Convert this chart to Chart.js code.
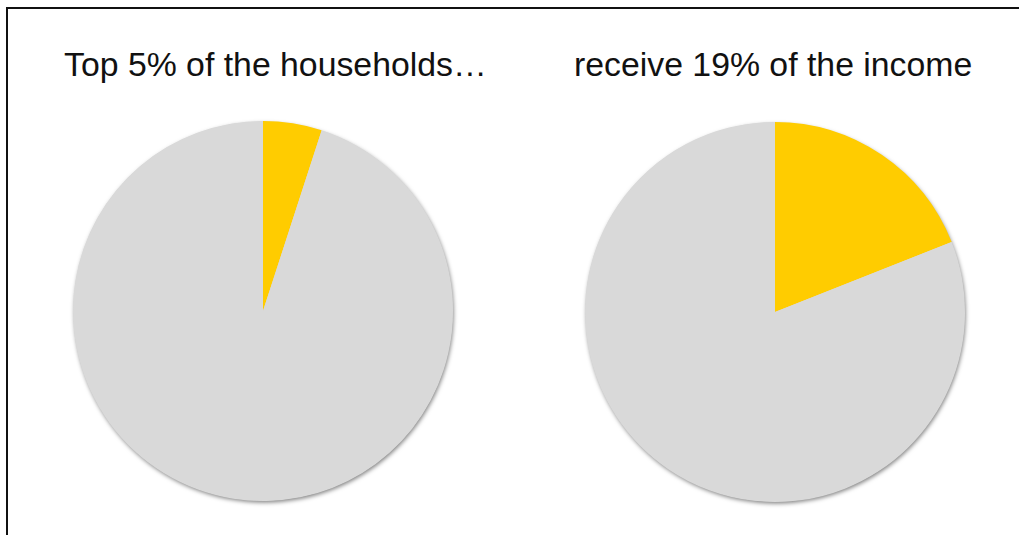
<!DOCTYPE html>
<html>
<head>
<meta charset="utf-8">
<script src="https://cdn.jsdelivr.net/npm/chart.js@4.4.0/dist/chart.umd.min.js"></script>
<style>
  html, body { margin: 0; padding: 0; background: #fff; overflow: hidden; }
  body { width: 1019px; height: 535px; position: relative; }
  .rule { position: absolute; background: #111; }
  .title {
    position: absolute; font-family: "Liberation Sans", Arial, sans-serif;
    font-size: 33.8px; line-height: 34px; color: #111; white-space: nowrap;
  }
  .pie { position: absolute; width: 400px; height: 400px; }
</style>
</head>
<body>
<div class="rule" style="left:6px; top:7px; width:1013px; height:2px;"></div>
<div class="rule" style="left:6px; top:7px; width:2px; height:528px;"></div>
<div class="title" id="t1" style="left:64px; top:47px;"></div>
<div class="title" id="t2" style="left:574px; top:47px;"></div>
<div class="pie" style="left:63px; top:111px;"><canvas id="pie1"></canvas></div>
<div class="pie" style="left:575px; top:112px;"><canvas id="pie2"></canvas></div>
<script>
const titles = ["Top 5% of the households…", "receive 19% of the income"]
const labels = ["Top 5%", "Rest"]
const householdShare = [5, 95]
const incomeShare = [19, 81]
const sliceColors = ["#ffcc00", "#d9d9d9"]

document.getElementById("t1").textContent = titles[0]
document.getElementById("t2").textContent = titles[1]

// soft drop shadow under the whole pie (drawn once, before the slices)
const shadowPlugin = {
  id: "pieShadow",
  beforeDatasetsDraw(chart) {
    const arc = chart.getDatasetMeta(0).data[0]
    if (!arc) return
    const ctx = chart.ctx
    ctx.save()
    ctx.shadowColor = "rgba(0, 0, 0, 0.5)"
    ctx.shadowBlur = 4
    ctx.shadowOffsetX = 1
    ctx.shadowOffsetY = 2
    ctx.fillStyle = sliceColors[1]
    ctx.beginPath()
    ctx.arc(arc.x, arc.y, arc.outerRadius - 0.5, 0, Math.PI * 2)
    ctx.fill()
    ctx.restore()
  },
}

function makePie(id, values) {
  return new Chart(document.getElementById(id), {
    type: "pie",
    data: {
      labels: labels,
      datasets: [{
        data: values,
        backgroundColor: sliceColors,
        borderWidth: 0,
      }],
    },
    options: {
      responsive: true,
      maintainAspectRatio: false,
      animation: false,
      events: [],
      layout: { padding: 10 },
      plugins: {
        legend: { display: false },
        tooltip: { enabled: false },
      },
    },
    plugins: [shadowPlugin],
  })
}

makePie("pie1", householdShare)
makePie("pie2", incomeShare)
</script>
</body>
</html>
